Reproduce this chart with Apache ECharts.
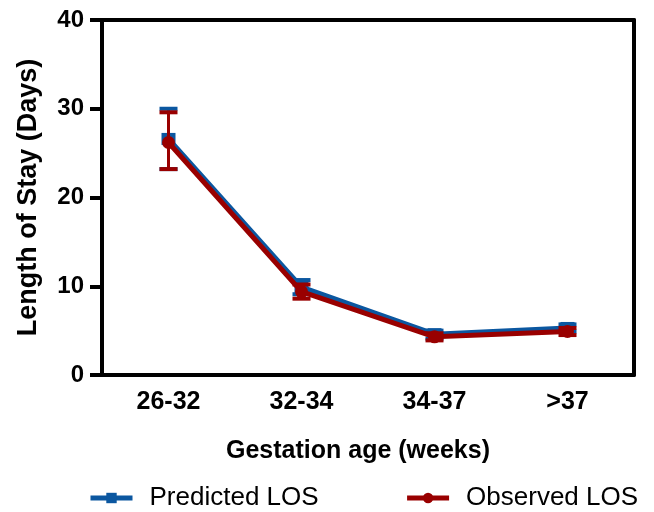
<!DOCTYPE html>
<html>
<head>
<meta charset="utf-8">
<script src="https://cdn.jsdelivr.net/npm/echarts@6/dist/echarts.min.js"></script>
<style>
	html, body { margin: 0; padding: 0; background: #fff; }
	#charts { width: 654px; height: 512px; }
</style>
</head>
<body>
<div id="charts"></div>
<script>
const categories = ['26-32', '32-34', '34-37', '>37']
const predicted = [26.6, 9.9, 4.6, 5.3]
const predictedLow = [23.2, 9.1, 4.1, 4.9]
const predictedHigh = [30.0, 10.7, 5.0, 5.7]
const observed = [26.2, 9.4, 4.3, 4.9]
const observedLow = [23.2, 8.6, 3.9, 4.5]
const observedHigh = [29.6, 10.2, 4.7, 5.3]

const blue = '#0b57a0'
const red = '#990000'
const font = 'Liberation Sans, Arial, sans-serif'

// error bars drawn as a custom series (vertical line + caps)
const errorSeries = (low, high, color, z) => ({
	type: 'custom',
	z: z,
	silent: true,
	data: categories.map((c, i) => [i, low[i], high[i]]),
	renderItem: (params, api) => {
		const lo = api.coord([api.value(0), api.value(1)])
		const hi = api.coord([api.value(0), api.value(2)])
		const half = 9
		return {
			type: 'group',
			children: [
				{ type: 'line', shape: { x1: lo[0], y1: lo[1], x2: hi[0], y2: hi[1] }, style: { stroke: color, lineWidth: 3 } },
				{ type: 'line', shape: { x1: hi[0] - half, y1: hi[1], x2: hi[0] + half, y2: hi[1] }, style: { stroke: color, lineWidth: 4 } },
				{ type: 'line', shape: { x1: lo[0] - half, y1: lo[1], x2: lo[0] + half, y2: lo[1] }, style: { stroke: color, lineWidth: 4 } }
			]
		}
	}
})

const chart = echarts.init(document.getElementById('charts'))
chart.setOption({
	animation: false,
	grid: { left: 102, right: 20, top: 20, bottom: 137 },
	legend: {
		top: 480,
		left: 83,
		itemGap: 86,
		itemWidth: 42,
		itemHeight: 13,
		lineStyle: { width: 5 },
		textStyle: { fontFamily: font, fontSize: 26, color: '#000', padding: [0, 0, 0, 12] },
		data: ['Predicted LOS', 'Observed LOS']
	},
	xAxis: [
		{
			type: 'category',
			data: categories,
			boundaryGap: true,
			name: 'Gestation age (weeks)',
			nameLocation: 'middle',
			nameGap: 64,
			nameTextStyle: { fontFamily: font, fontSize: 25, fontWeight: 'bold', color: '#000', padding: [0, 20, 0, 0] },
			axisLine: { lineStyle: { color: '#000', width: 4 } },
			axisTick: { alignWithLabel: true, length: 12, lineStyle: { width: 4, color: '#000' } },
			axisLabel: { fontFamily: font, fontSize: 25, fontWeight: 'bold', color: '#000', margin: 15 }
		},
		{
			type: 'category',
			position: 'top',
			data: categories,
			axisLine: { onZero: false, lineStyle: { color: '#000', width: 4 } },
			axisTick: { show: false },
			axisLabel: { show: false }
		}
	],
	yAxis: [
		{
			type: 'value',
			min: 0,
			max: 40,
			interval: 10,
			name: 'Length of Stay (Days)',
			nameLocation: 'middle',
			nameGap: 60,
			nameTextStyle: { fontFamily: font, fontSize: 27, fontWeight: 'bold', color: '#000' },
			splitLine: { show: false },
			axisLine: { show: true, lineStyle: { color: '#000', width: 4 } },
			axisTick: { show: true, length: 12, lineStyle: { width: 4, color: '#000' } },
			axisLabel: { fontFamily: font, fontSize: 24, fontWeight: 'bold', color: '#000', margin: 18 }
		},
		{
			type: 'value',
			position: 'right',
			min: 0,
			max: 40,
			splitLine: { show: false },
			axisLine: { show: true, onZero: false, lineStyle: { color: '#000', width: 4 } },
			axisTick: { show: false },
			axisLabel: { show: false }
		}
	],
	series: [
		errorSeries(predictedLow, predictedHigh, blue, 2),
		{
			name: 'Predicted LOS',
			type: 'line',
			z: 3,
			data: predicted,
			symbol: 'rect',
			symbolSize: [14, 12],
			lineStyle: { color: blue, width: 5 },
			itemStyle: { color: blue }
		},
		errorSeries(observedLow, observedHigh, red, 4),
		{
			name: 'Observed LOS',
			type: 'line',
			z: 5,
			data: observed,
			symbol: 'circle',
			symbolSize: 13,
			lineStyle: { color: red, width: 5 },
			itemStyle: { color: red }
		}
	]
})
</script>
</body>
</html>
